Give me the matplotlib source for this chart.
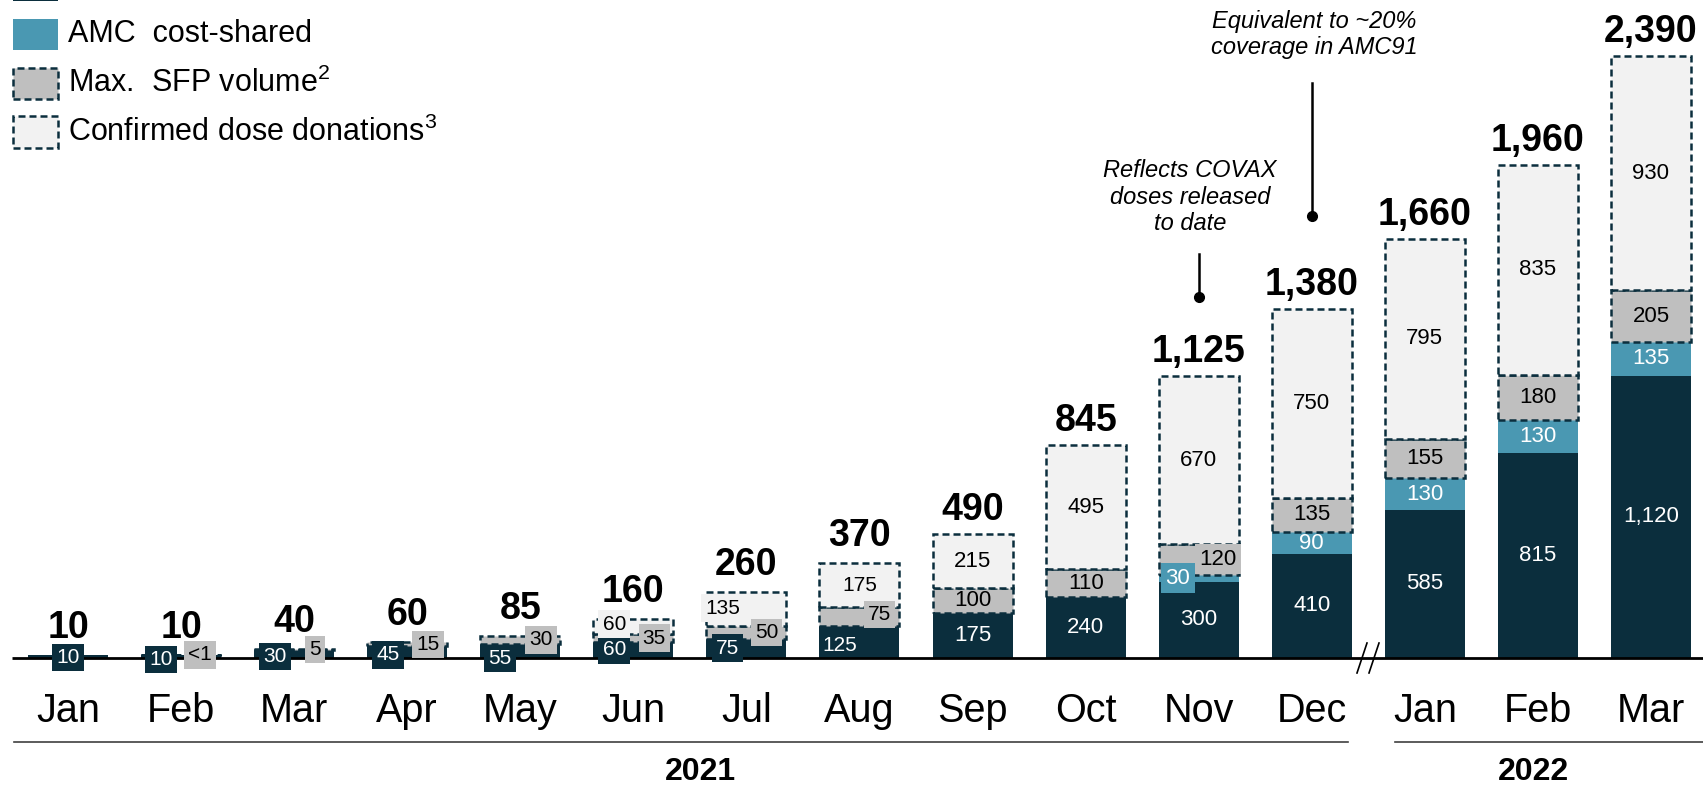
#covax supply forecast chart
import matplotlib
matplotlib.use('Agg')
import matplotlib.pyplot as plt
from matplotlib.patches import Rectangle

plt.rcParams['font.family'] = 'Liberation Sans'
plt.rcParams['mathtext.fontset'] = 'custom'
plt.rcParams['mathtext.rm'] = 'Liberation Sans'
plt.rcParams['mathtext.it'] = 'Liberation Sans:italic'

months = ['Jan', 'Feb', 'Mar', 'Apr', 'May', 'Jun', 'Jul', 'Aug', 'Sep', 'Oct', 'Nov', 'Dec',
          'Jan', 'Feb', 'Mar']
years = ['2021', '2022']
totals = [10, 10, 40, 60, 85, 160, 260, 370, 490, 845, 1125, 1380, 1660, 1960, 2390]
amc_funded = [10, 10, 30, 45, 55, 60, 75, 125, 175, 240, 300, 410, 585, 815, 1120]
cost_shared = [0, 0, 0, 0, 0, 0, 0, 0, 0, 0, 30, 90, 130, 130, 135]
sfp_volume = [0, 0.5, 5, 15, 30, 35, 50, 75, 100, 110, 120, 135, 155, 180, 205]
donations = [0, 0, 0, 0, 0, 60, 135, 175, 215, 495, 670, 750, 795, 835, 930]
series_names = ['AMC  donor-funded', 'AMC  cost-shared', 'Max.  SFP volume$^2$',
                'Confirmed dose donations$^3$']
notes = ['Reflects COVAX\ndoses released\nto date', 'Equivalent to ~20%\ncoverage in AMC91']

DARK = '#0B2E3D'
TEAL = '#4A98B2'
GREY = '#BFBFBF'
LIGHT = '#F2F2F2'

#pixel <-> data mapping (figure is 1703x787 px)
X0, DX = 68, 113.07
Y0, SY = 657.5, 0.2515
def vx(px):
	return (px - X0) / DX
def vy(px):
	return (Y0 - px) / SY

#label nudges for the small bars: (dx px, dy px, boxed)
nudge = {
	(0, 'amc'): (0, -1, True),
	(1, 'amc'): (-20, -3, True), (1, 'sfp'): (19, 0, True),
	(2, 'amc'): (-19, -3, True), (2, 'sfp'): (21, 0, True),
	(3, 'amc'): (-19, -3, True), (3, 'sfp'): (21, 0, True),
	(4, 'amc'): (-20, -8, True), (4, 'sfp'): (21, 0, True),
	(5, 'amc'): (-19, 0, True), (5, 'sfp'): (21, 0, True), (5, 'don'): (-19, 2, True),
	(6, 'amc'): (-19, 0, True), (6, 'sfp'): (20, 0, True), (6, 'don'): (-24, 1, True),
	(7, 'amc'): (-20, -4, False), (7, 'sfp'): (20, 2, True),
	(10, 'cost'): (-21, 0, True), (10, 'sfp'): (19, 0, True),
}

fig = plt.figure(figsize=(17.03, 7.87), dpi=100)
ax = fig.add_axes([0, 0, 1, 1])
ax.set_xlim(vx(0), vx(1703))
ax.set_ylim(vy(787), vy(0))
ax.axis('off')

width = 80 / DX
dash = (0, (2.8, 1.6))
layers = [('amc', amc_funded, DARK, 'white', False),
          ('cost', cost_shared, TEAL, 'white', False),
          ('sfp', sfp_volume, GREY, 'black', True),
          ('don', donations, LIGHT, 'black', True)]

bottoms = [0.0] * len(months)
for key, vals, col, tcol, dashed in layers:
	for i, v in enumerate(vals):
		if v <= 0:
			continue
		if dashed:
			ax.bar(i, v, width, bottom=bottoms[i], color=col, edgecolor=DARK,
				linewidth=1.8, linestyle=dash, zorder=2)
		else:
			ax.bar(i, v, width, bottom=bottoms[i], color=col, linewidth=0, zorder=2)
		txt = '<1' if v < 1 else f'{v:,}'
		dxp, dyp, boxed = nudge.get((i, key), (0, 0, False))
		fs = 15 if i < 8 else 16
		bbox = dict(boxstyle='square,pad=0.2', fc=col, ec='none') if boxed else None
		ax.text(i + dxp / DX, bottoms[i] + v / 2 + dyp / SY, txt, ha='center', va='center',
			color=tcol, fontsize=fs, bbox=bbox, zorder=5)
		bottoms[i] += v

for i, t in enumerate(totals):
	gap = 17 if i < 8 else 14
	ax.text(i, bottoms[i] + gap / SY, f'{t:,}', ha='center', va='baseline',
		fontsize=27, fontweight='bold', zorder=5)

#axis line and break
ax.plot([vx(12), vx(1703)], [0, 0], color='black', lw=2, zorder=4, solid_capstyle='butt')
for x0 in (1357, 1369):
	ax.plot([vx(x0), vx(x0 + 10)], [vy(673), vy(643)], color='black', lw=1.2, zorder=4)

for i, m in enumerate(months):
	ax.text(i, vy(722), m, ha='center', va='baseline', fontsize=28.5)

#year brackets
ax.plot([vx(14), vx(1348)], [vy(742), vy(742)], color='#404040', lw=1.2)
ax.plot([vx(1395), vx(1703)], [vy(742), vy(742)], color='#404040', lw=1.2)
ax.text(vx(700), vy(780), years[0], ha='center', va='baseline', fontsize=23, fontweight='bold')
ax.text(vx(1533), vy(780), years[1], ha='center', va='baseline', fontsize=23, fontweight='bold')

#callouts
ax.text(vx(1190), vy(197), notes[0], ha='center', va='center', fontsize=17,
	style='italic', linespacing=1.2)
ax.plot([10, 10], [vy(254), vy(297)], color='black', lw=1.8)
ax.plot(10, vy(297), 'o', color='black', ms=7)
ax.text(vx(1314), vy(34.5), notes[1], ha='center', va='center', fontsize=17,
	style='italic', linespacing=1.2)
ax.plot([11, 11], [vy(83), vy(216)], color='black', lw=1.8)
ax.plot(11, vy(216), 'o', color='black', ms=7)

#legend
leg_cols = [DARK, TEAL, GREY, LIGHT]
for k, name in enumerate(series_names):
	cy = -15 + 49 * k
	dashed = k >= 2
	r = Rectangle((vx(13), vy(cy + 15.5)), vx(58) - vx(13), 31 / SY, facecolor=leg_cols[k],
		edgecolor=DARK if dashed else 'none', linewidth=1.8 if dashed else 0,
		linestyle=dash if dashed else '-', clip_on=False)
	ax.add_patch(r)
	ax.text(vx(68), vy(cy), name, ha='left', va='center', fontsize=22)

fig.savefig('out.png', dpi=100)
